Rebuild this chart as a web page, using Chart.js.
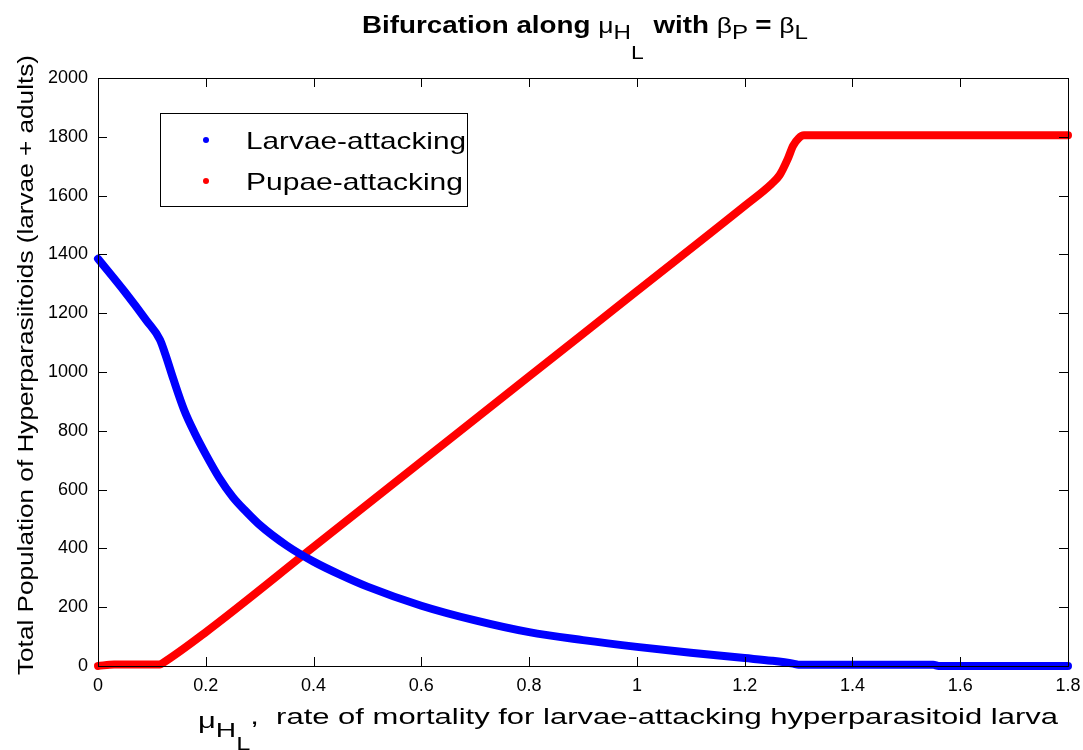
<!DOCTYPE html>
<html>
<head>
<meta charset="utf-8">
<script src="https://cdn.jsdelivr.net/npm/chart.js@4"></script>
<style>
  html, body { margin: 0; padding: 0; background: #fff; }
  #wrap { width: 1083px; height: 750px; }
</style>
</head>
<body>
<div id="wrap"><canvas id="bif" width="1083" height="750"></canvas></div>
<script>
// values
const xLarvae = [0, 0.05, 0.09, 0.115, 0.125, 0.14, 0.16, 0.18, 0.2, 0.225, 0.25, 0.275, 0.3, 0.35, 0.4, 0.45, 0.5, 0.6, 0.7, 0.8, 0.9, 1.0, 1.1, 1.2, 1.25, 1.29, 1.3, 1.55, 1.56, 1.8];
const larvae  = [1385, 1272, 1175, 1110, 1060, 975, 870, 790, 720, 640, 575, 525, 480, 410, 355, 310, 270, 205, 155, 115, 88, 65, 45, 27, 18, 8, 4, 4, 0, 0];

const xPupae = [0, 0.03, 0.115, 0.12, 0.2, 0.4, 0.6, 0.8, 1.0, 1.2, 1.25, 1.265, 1.28, 1.29, 1.3, 1.31, 1.32, 1.8];
const pupae  = [0, 5, 5, 10, 115, 405, 695, 985, 1275, 1565, 1640, 1670, 1725, 1770, 1795, 1805, 1805, 1805];

const xTicks = [0, 0.2, 0.4, 0.6, 0.8, 1, 1.2, 1.4, 1.6, 1.8];
const yTicks = [0, 200, 400, 600, 800, 1000, 1200, 1400, 1600, 1800, 2000];

const FONT = '"Liberation Sans", Arial, Helvetica, sans-serif';

function toPoints(xs, ys) {
    return xs.map((x, i) => ({ x: x, y: ys[i] }));
}

// text pieces with sub/superscript offsets, stretched sideways to a given width
function richText(ctx, pieces, left, baseline, width) {
    let total = 0;
    pieces.forEach(p => {
        ctx.font = (p.bold ? 'bold ' : '') + p.size + 'px ' + FONT;
        p.w = ctx.measureText(p.t).width;
        total += p.w + (p.gap || 0);
    });
    const k = width ? width / total : 1;
    ctx.save();
    ctx.translate(left, baseline);
    ctx.scale(k, 1);
    ctx.textAlign = 'left';
    ctx.textBaseline = 'alphabetic';
    let x = 0;
    pieces.forEach(p => {
        ctx.font = (p.bold ? 'bold ' : '') + p.size + 'px ' + FONT;
        ctx.fillText(p.t, x, p.dy || 0);
        x += p.w + (p.gap || 0);
    });
    ctx.restore();
}

const matlabFrame = {
    id: 'matlabFrame',
    afterDraw(chart) {
        const ctx = chart.ctx;
        const a = chart.chartArea;
        const xs = chart.scales.x, ys = chart.scales.y;
        ctx.save();
        ctx.strokeStyle = '#000';
        ctx.lineWidth = 1;
        ctx.strokeRect(a.left + 0.5, a.top + 0.5, a.right - a.left, a.bottom - a.top);

        // inward ticks on all four sides
        ctx.beginPath();
        xTicks.forEach(v => {
            const px = Math.round(xs.getPixelForValue(v)) + 0.5;
            ctx.moveTo(px, a.bottom); ctx.lineTo(px, a.bottom - 9);
            ctx.moveTo(px, a.top); ctx.lineTo(px, a.top + 9);
        });
        yTicks.forEach(v => {
            const py = Math.round(ys.getPixelForValue(v)) + 0.5;
            ctx.moveTo(a.left, py); ctx.lineTo(a.left + 9, py);
            ctx.moveTo(a.right, py); ctx.lineTo(a.right - 9, py);
        });
        ctx.stroke();

        ctx.fillStyle = '#000';
        // title
        richText(ctx, [
            { t: 'Bifurcation along ', size: 23, bold: true },
            { t: 'μ', size: 22 },
            { t: 'H', size: 20, dy: 6 },
            { t: 'L', size: 19, dy: 26, gap: 8 },
            { t: 'with ', size: 23, bold: true },
            { t: 'β', size: 22 },
            { t: 'P', size: 20, dy: 6, gap: 6 },
            { t: '= ', size: 23, bold: true },
            { t: 'β', size: 22 },
            { t: 'L', size: 20, dy: 6 }
        ], 362, 33, 446);

        // x axis label
        richText(ctx, [
            { t: 'μ', size: 22, dy: 4 },
            { t: 'H', size: 20, dy: 13 },
            { t: 'L', size: 18, dy: 26 },
            { t: ',  rate of mortality for larvae-attacking hyperparasitoid larva', size: 22 }
        ], 198, 724, 860);

        // y axis label
        ctx.save();
        ctx.translate(33, 365);
        ctx.rotate(-Math.PI / 2);
        ctx.font = '22px ' + FONT;
        const yl = 'Total Population of Hyperparasiitoids (larvae + adults)';
        const k = 620 / ctx.measureText(yl).width;
        ctx.scale(k, 1);
        ctx.textAlign = 'center';
        ctx.textBaseline = 'alphabetic';
        ctx.fillText(yl, 0, 0);
        ctx.restore();

        // legend box
        const lx = 160, ly = 113, lw = 307, lh = 93;
        ctx.fillStyle = '#fff';
        ctx.fillRect(lx, ly, lw, lh);
        ctx.strokeStyle = '#000';
        ctx.strokeRect(lx + 0.5, ly + 0.5, lw, lh);
        const items = [
            { label: 'Larvae-attacking', color: '#0000ff', y: 140, w: 220 },
            { label: 'Pupae-attacking', color: '#ff0000', y: 181, w: 217 }
        ];
        items.forEach(it => {
            ctx.fillStyle = it.color;
            ctx.beginPath();
            ctx.arc(206, it.y, 3, 0, Math.PI * 2);
            ctx.fill();
            ctx.fillStyle = '#000';
            richText(ctx, [{ t: it.label, size: 24 }], 246, it.y + 9, it.w);
        });
        ctx.restore();
    }
};

new Chart(document.getElementById('bif'), {
    type: 'scatter',
    data: {
        datasets: [{
            label: 'Larvae-attacking',
            data: toPoints(xLarvae, larvae),
            showLine: true,
            cubicInterpolationMode: 'monotone',
            borderColor: '#0000ff',
            backgroundColor: '#0000ff',
            borderWidth: 8,
            borderCapStyle: 'round',
            borderJoinStyle: 'round',
            pointRadius: 0,
            clip: false
        }, {
            label: 'Pupae-attacking',
            data: toPoints(xPupae, pupae),
            showLine: true,
            cubicInterpolationMode: 'monotone',
            borderColor: '#ff0000',
            backgroundColor: '#ff0000',
            borderWidth: 8,
            borderCapStyle: 'round',
            borderJoinStyle: 'round',
            pointRadius: 0,
            clip: false
        }]
    },
    options: {
        responsive: false,
        animation: false,
        layout: {
            padding: { top: 78, right: 15, left: 0, bottom: 0 }
        },
        plugins: {
            legend: { display: false },
            tooltip: { enabled: false }
        },
        scales: {
            x: {
                type: 'linear',
                min: 0,
                max: 1.8,
                afterFit: s => { s.height = 84; s.paddingLeft = 0; s.paddingRight = 0; },
                afterBuildTicks: s => { s.ticks = xTicks.map(v => ({ value: v })); },
                grid: { display: false, drawTicks: false },
                border: { display: false },
                ticks: {
                    padding: 9,
                    color: '#000',
                    font: { family: FONT, size: 18 },
                    callback: v => Number(v.toFixed(1)).toString()
                }
            },
            y: {
                min: 0,
                max: 2000,
                afterFit: s => { s.width = 98; s.paddingTop = 0; s.paddingBottom = 0; },
                afterBuildTicks: s => { s.ticks = yTicks.map(v => ({ value: v })); },
                grid: { display: false, drawTicks: false },
                border: { display: false },
                ticks: {
                    padding: 10,
                    color: '#000',
                    font: { family: FONT, size: 18 },
                    callback: v => String(v)
                }
            }
        }
    },
    plugins: [matlabFrame]
});
</script>
</body>
</html>
